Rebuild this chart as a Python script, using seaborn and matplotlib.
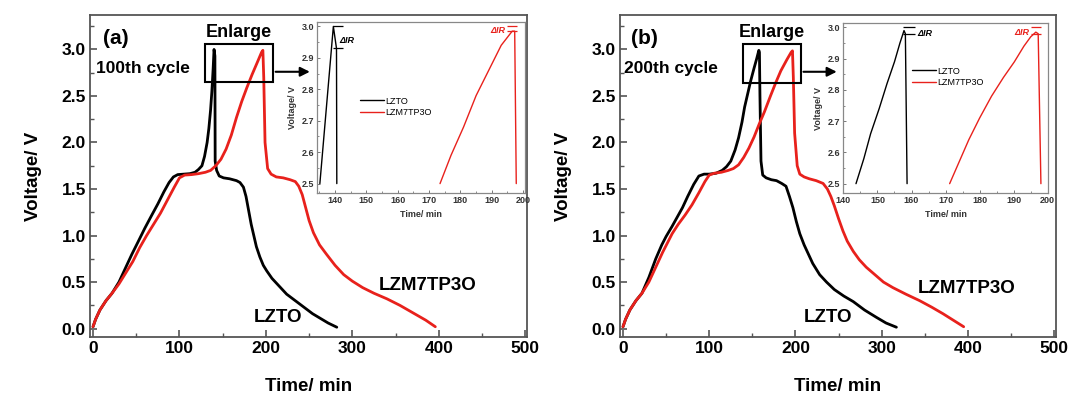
import seaborn as sns
import matplotlib.pyplot as plt
import pandas as pd
from matplotlib.patches import Rectangle
from matplotlib.ticker import MultipleLocator

# ---- data ----
# (a) 100th cycle
a_lzto_t = [0, 3, 8, 15, 22, 30, 38, 45, 52, 60, 68, 75, 82, 88, 93, 98, 105, 112, 118, 122, 126, 129, 132, 134, 136, 137.5, 139, 140,
            141, 141.3, 143, 146, 151, 158, 166, 170, 174, 177, 180, 183, 186, 189, 193, 197, 201, 207, 214, 224, 234, 244, 254, 263, 272, 282]
a_lzto_v = [0.02, 0.1, 0.2, 0.3, 0.38, 0.5, 0.66, 0.8, 0.93, 1.08, 1.22, 1.34, 1.47, 1.57, 1.63, 1.655, 1.66, 1.665, 1.68, 1.71, 1.75, 1.85, 2.0, 2.15, 2.35, 2.55, 2.8, 3.0,
            2.93, 1.8, 1.7, 1.64, 1.62, 1.61, 1.59, 1.57, 1.52, 1.42, 1.27, 1.12, 1.0, 0.88, 0.77, 0.68, 0.62, 0.54, 0.47, 0.37, 0.3, 0.23, 0.16, 0.11, 0.06, 0.015]
a_lzm_t = [0, 3, 8, 15, 22, 30, 38, 46, 54, 62, 70, 78, 86, 94, 100, 106, 114, 122, 130, 136, 142, 148, 154, 160, 166, 172, 178, 184, 190, 195, 196.5,
           197.5, 199, 202, 206, 212, 220, 228, 234, 238, 242, 246, 250, 255, 262, 270, 280, 290, 300, 312, 325, 340, 355, 370, 385, 396]
a_lzm_v = [0.02, 0.1, 0.2, 0.3, 0.38, 0.48, 0.6, 0.72, 0.87, 1.0, 1.12, 1.24, 1.38, 1.52, 1.62, 1.65, 1.655, 1.665, 1.68, 1.7, 1.75, 1.82, 1.93, 2.08, 2.27, 2.44, 2.59, 2.73, 2.86, 2.97, 2.99,
           2.7, 2.0, 1.72, 1.66, 1.63, 1.62, 1.6, 1.58, 1.53, 1.44, 1.3, 1.16, 1.03, 0.9, 0.8, 0.68, 0.58, 0.51, 0.44, 0.38, 0.32, 0.25, 0.17, 0.09, 0.02]

# (b) 200th cycle
b_lzto_t = [0, 3, 8, 15, 22, 30, 38, 45, 50, 57, 63, 69, 75, 82, 88, 94, 100, 108, 115, 120, 125, 130, 134, 138, 141, 144, 148, 152, 155, 157.5,
            158.2, 158.8, 160, 162, 166, 172, 178, 184, 189, 193, 197, 201, 205, 210, 215, 220, 228, 236, 245, 256, 267, 280, 294, 305, 317]
b_lzto_v = [0.02, 0.1, 0.2, 0.3, 0.38, 0.55, 0.75, 0.9, 0.99, 1.1, 1.2, 1.3, 1.42, 1.55, 1.64, 1.66, 1.66, 1.67, 1.7, 1.74, 1.8, 1.92, 2.05, 2.22, 2.38, 2.5, 2.66, 2.8, 2.9, 2.99,
            2.97, 2.5, 1.8, 1.65, 1.62, 1.6, 1.59, 1.56, 1.53, 1.42, 1.3, 1.15, 1.02, 0.9, 0.8, 0.7, 0.58, 0.5, 0.42, 0.35, 0.29, 0.2, 0.12, 0.06, 0.015]
b_lzm_t = [0, 3, 8, 15, 22, 30, 38, 46, 57, 64, 72, 80, 88, 95, 100, 106, 114, 122, 128, 134, 140, 146, 152, 158, 164, 171, 177, 183, 190, 195, 196.5,
           197.5, 199, 202, 205, 210, 216, 224, 232, 237, 241, 245, 250, 255, 260, 267, 274, 282, 292, 302, 313, 328, 344, 358, 371, 383, 395]
b_lzm_v = [0.02, 0.1, 0.2, 0.3, 0.38, 0.5, 0.66, 0.82, 1.02, 1.12, 1.22, 1.33, 1.46, 1.58, 1.65, 1.67, 1.68, 1.7, 1.72, 1.76, 1.84, 1.94, 2.06, 2.2, 2.33, 2.5, 2.64, 2.77, 2.89, 2.97, 2.985,
           2.7, 2.1, 1.75, 1.66, 1.63, 1.61, 1.59, 1.56, 1.5, 1.42, 1.32, 1.18, 1.05, 0.94, 0.83, 0.74, 0.66, 0.58, 0.5, 0.44, 0.37, 0.3, 0.23, 0.16, 0.09, 0.02]

# insets (enlarged top region)
ia_lzto_t = [135.2, 139.5, 140.5, 140.6]
ia_lzto_v = [2.5, 3.0, 2.93, 2.5]
ia_lzm_t = [173.5, 177, 181, 185, 189.5, 193, 196.5, 197.3, 197.8]
ia_lzm_v = [2.5, 2.59, 2.68, 2.78, 2.87, 2.94, 2.985, 2.985, 2.5]
ib_lzto_t = [143.7, 146, 148, 150.5, 152.8, 155, 156.6, 157.8, 158.2, 158.7]
ib_lzto_v = [2.5, 2.58, 2.66, 2.74, 2.82, 2.89, 2.95, 2.99, 2.98, 2.5]
ib_lzm_t = [171.2, 174, 176.8, 180, 183.5, 187, 190.2, 193, 195, 196.5, 197.2, 198]
ib_lzm_v = [2.5, 2.57, 2.64, 2.71, 2.78, 2.84, 2.89, 2.94, 2.97, 2.985, 2.98, 2.5]

# IR drop brackets: (x0, x1, v_top, v_bottom)
ia_ir_black = (139.5, 142.5, 3.0, 2.93)
ia_ir_red = (195.0, 198.0, 3.0, 2.985)
ib_ir_black = (157.5, 161.0, 3.0, 2.98)
ib_ir_red = (195.0, 198.0, 3.0, 2.98)

names = ["LZTO", "LZM7TP3O"]
colors = {"LZTO": "black", "LZM7TP3O": "#e8211c"}


def frame(t1, v1, t2, v2):
    d1 = pd.DataFrame({"t": t1, "v": v1, "s": names[0]})
    d2 = pd.DataFrame({"t": t2, "v": v2, "s": names[1]})
    return pd.concat([d1, d2], ignore_index=True)


sns.set_theme(style="ticks")
plt.rcParams['font.family'] = ['Liberation Sans', 'DejaVu Sans']
plt.rcParams['xtick.direction'] = 'in'
plt.rcParams['ytick.direction'] = 'in'
plt.rcParams['text.color'] = 'black'
plt.rcParams['axes.labelcolor'] = 'black'
plt.rcParams['xtick.labelcolor'] = 'black'
plt.rcParams['ytick.labelcolor'] = 'black'

fig = plt.figure(figsize=(10.7, 3.98), dpi=100)

panels = [
    dict(main=[0.0841, 0.1533, 0.4084, 0.809], ins=[0.2963, 0.515, 0.1944, 0.4296],
         data=frame(a_lzto_t, a_lzto_v, a_lzm_t, a_lzm_v),
         idata=frame(ia_lzto_t, ia_lzto_v, ia_lzm_t, ia_lzm_v),
         tag="(a)", cyc="100th cycle", tagx=12, cycx=3,
         box=(129.5, 2.645, 78.5, 0.415), arrow_end=254,
         lzto=(186, 0.12), lzm=(330, 0.46),
         ixlim=(134.3, 200.6), leg=(0.19, 0.585),
         irb=ia_ir_black, irr=ia_ir_red, irb_txt=(141.3, 2.955), irr_txt=(194.3, 2.987)),
    dict(main=[0.5794, 0.1533, 0.4075, 0.809], ins=[0.7879, 0.515, 0.1916, 0.427],
         data=frame(b_lzto_t, b_lzto_v, b_lzm_t, b_lzm_v),
         idata=frame(ib_lzto_t, ib_lzto_v, ib_lzm_t, ib_lzm_v),
         tag="(b)", cyc="200th cycle", tagx=9, cycx=1,
         box=(138.7, 2.635, 67.3, 0.425), arrow_end=251,
         lzto=(210, 0.12), lzm=(342, 0.43),
         ixlim=(139.9, 200.1), leg=(0.32, 0.765),
         irb=ib_ir_black, irr=ib_ir_red, irb_txt=(161.8, 2.98), irr_txt=(194.6, 2.985)),
]

spine_col = "#555555"

for p in panels:
    ax = fig.add_axes(p["main"])
    for s in names:
        sub = p["data"][p["data"]["s"] == s]
        sns.lineplot(x=sub["t"].values, y=sub["v"].values, sort=False, estimator=None,
                     color=colors[s], linewidth=2.0, ax=ax)
    ax.set_xlim(-3.5, 502)
    ax.set_ylim(-0.09, 3.37)
    ax.xaxis.set_major_locator(MultipleLocator(100))
    ax.xaxis.set_minor_locator(MultipleLocator(50))
    ax.yaxis.set_major_locator(MultipleLocator(0.5))
    ax.yaxis.set_minor_locator(MultipleLocator(0.25))
    ax.tick_params(which="major", length=5, width=1.2, color=spine_col, labelsize=12.5, pad=3)
    ax.tick_params(which="minor", length=3, width=1.0, color=spine_col)
    ax.yaxis.set_major_formatter(plt.FuncFormatter(lambda v, _: f"{v:.1f}"))
    for lab in ax.get_xticklabels() + ax.get_yticklabels():
        lab.set_fontweight("bold")
    for sp in ax.spines.values():
        sp.set_color(spine_col)
        sp.set_linewidth(1.3)
    ax.set_xlabel("Time/ min", fontsize=13.5, fontweight="bold", labelpad=16)
    ax.set_ylabel("Voltage/ V", fontsize=13.5, fontweight="bold", labelpad=14)

    ax.text(p["tagx"], 3.12, p["tag"], fontsize=15, fontweight="bold", va="center")
    ax.text(p["cycx"], 2.8, p["cyc"], fontsize=12.5, fontweight="bold", va="center")
    bx, by, bw, bh = p["box"]
    ax.add_patch(Rectangle((bx, by), bw, bh, fill=False, edgecolor="black", linewidth=1.5, zorder=5))
    ax.text(bx + bw / 2, by + bh + 0.03, "Enlarge", fontsize=13, fontweight="bold", ha="center", va="bottom")
    ax.annotate("", xy=(p["arrow_end"], 2.76), xytext=(bx + bw, 2.76),
                arrowprops=dict(arrowstyle="-|>", color="black", lw=1.5, mutation_scale=14))
    ax.text(p["lzto"][0], p["lzto"][1], "LZTO", fontsize=13.5, fontweight="bold", va="center")
    ax.text(p["lzm"][0], p["lzm"][1], "LZM7TP3O", fontsize=13.5, fontweight="bold", va="center")

    # inset
    ia = fig.add_axes(p["ins"])
    for s in names:
        sub = p["idata"][p["idata"]["s"] == s]
        sns.lineplot(x=sub["t"].values, y=sub["v"].values, sort=False, estimator=None,
                     color=colors[s], linewidth=1.0, ax=ia, label=s)
    ia.set_xlim(*p["ixlim"])
    ia.set_ylim(2.47, 3.014)
    ia.xaxis.set_major_locator(MultipleLocator(10))
    ia.xaxis.set_minor_locator(MultipleLocator(5))
    ia.yaxis.set_major_locator(MultipleLocator(0.1))
    ia.yaxis.set_minor_locator(MultipleLocator(0.05))
    ia.tick_params(which="major", length=2.5, width=0.7, color="#777777", labelsize=6.5, pad=2)
    ia.tick_params(which="minor", length=1.5, width=0.6, color="#777777")
    for lab in ia.get_xticklabels() + ia.get_yticklabels():
        lab.set_fontweight("bold")
        lab.set_color("#333333")
    for sp in ia.spines.values():
        sp.set_color("#888888")
        sp.set_linewidth(0.9)
    ia.set_xlabel("Time/ min", fontsize=6.5, fontweight="bold", color="#333333", labelpad=4)
    ia.set_ylabel("Voltage/ V", fontsize=6.5, fontweight="bold", color="#333333", labelpad=3)
    ia.legend(loc="upper left", bbox_to_anchor=p["leg"], frameon=False, fontsize=6.5,
              handlelength=2.6, handletextpad=0.2, labelspacing=0.3, borderaxespad=0)

    for (x0, x1, vt, vb), col, txt, ha in [(p["irb"], "black", p["irb_txt"], "left"),
                                           (p["irr"], colors["LZM7TP3O"], p["irr_txt"], "right")]:
        ia.hlines([vt, vb], x0, x1, color=col, linewidth=0.9)
        ia.text(txt[0], txt[1], "\u0394IR", fontsize=6.5, fontweight="bold", style="italic",
                color=col, ha=ha, va="center")

fig.savefig("out.png", dpi=100)
